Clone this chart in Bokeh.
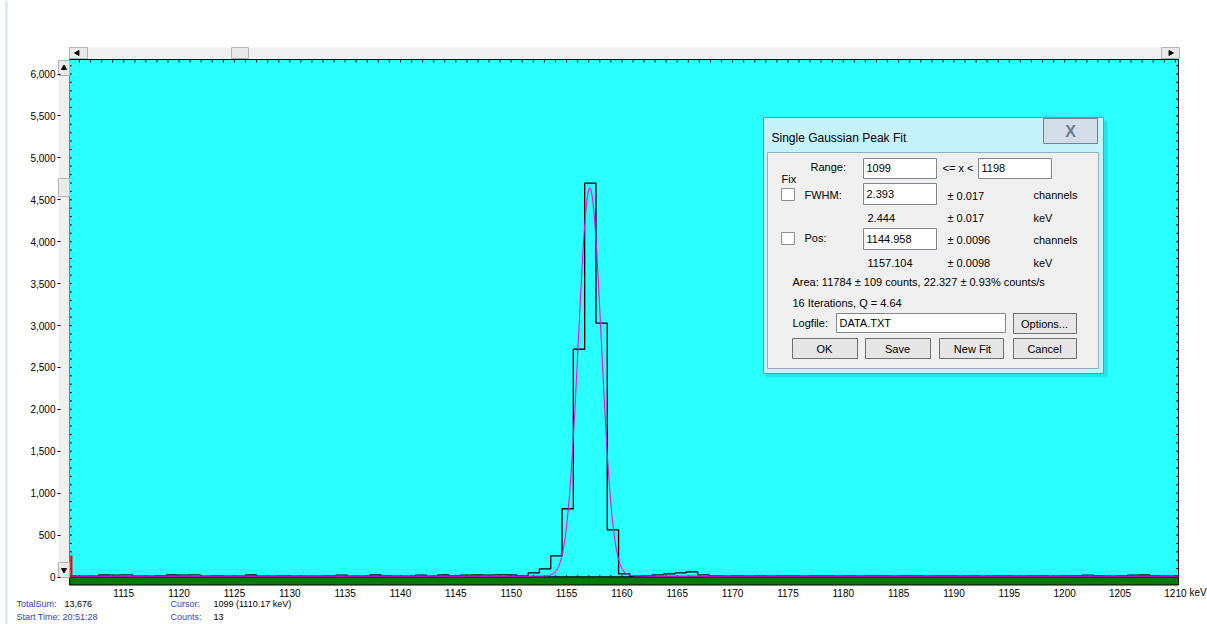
import numpy as np
from bokeh.plotting import figure
from bokeh.models import Range1d, FixedTicker, NumeralTickFormatter, Label
from bokeh.embed import file_html
from bokeh.resources import INLINE

# ---------------- data ----------------
CHANNELS = list(range(1099, 1199))
COUNTS = [
    13, 11, 10, 24, 23, 25, 11, 9, 12, 24,        # 1099-1108
    22, 25, 10, 12, 11, 9, 24, 11, 10, 12,        # 1109-1118
    11, 10, 9, 12, 23, 11, 10, 24, 12, 11,        # 1119-1128
    10, 23, 11, 24, 12, 23, 24, 22, 25, 24,       # 1129-1138
    14, 50, 98, 253, 814, 2717, 4698, 3028, 563, 38,  # 1139-1148
    11, 12, 26, 38, 50, 62, 26,                   # 1149-1155
    12, 11, 13, 10, 12, 11, 12, 13, 11, 12,       # 1156-1165
    12, 10, 13, 11, 12, 12, 11, 13, 12, 11,       # 1166-1175
    12, 13, 11, 12, 10, 12, 13, 11, 12, 12,       # 1176-1185
    11, 12, 13, 23, 12, 11, 12, 23, 24,           # 1186-1194
    12, 11, 12, 11,                               # 1195-1198
]
KEV_PER_CH = 1.0213
POS_CH = 1144.958
POS_KEV = 1157.104
FIT_AREA = 11784
FIT_FWHM_CH = 2.393
FIT_BG = 11.0
CURSOR_CH = 1099
X_TICKS = [1115, 1120, 1125, 1130, 1135, 1140, 1145, 1150, 1155, 1160, 1165, 1170,
           1175, 1180, 1185, 1190, 1195, 1200, 1205, 1210]
Y_TICKS = [0, 500, 1000, 1500, 2000, 2500, 3000, 3500, 4000, 4500, 5000, 5500, 6000]

# ---------------- geometry (page pixels -> data) ----------------
W, H = 1207, 624
X_REF_PX, X_REF_KEV, PX_PER_KEV = 69.0, 1110.1, 11.07
Y_ZERO_PX, PX_PER_COUNT = 576.5, 0.08383


def px2x(px):
    return X_REF_KEV + (px - X_REF_PX) / PX_PER_KEV


def py2y(py):
    return (Y_ZERO_PX - py) / PX_PER_COUNT


p = figure(width=W, height=H, output_backend="svg", toolbar_location=None,
           x_range=Range1d(px2x(0), px2x(W)), y_range=Range1d(py2y(H), py2y(0)),
           min_border=0)
p.background_fill_color = "white"
p.border_fill_color = "white"
p.outline_line_color = None
p.xgrid.visible = False
p.ygrid.visible = False

FONT = "Liberation Sans"
for ax in (p.xaxis[0], p.yaxis[0]):
    ax.axis_line_color = None
    ax.minor_tick_line_color = None
    ax.major_label_text_font = FONT
    ax.major_label_text_font_size = "10px"
    ax.major_label_text_color = "#000000"
    ax.major_tick_out = 0
p.xaxis[0].ticker = FixedTicker(ticks=X_TICKS)
p.xaxis[0].major_tick_in = 0
p.xaxis[0].major_label_standoff = 2
p.xaxis[0].fixed_location = py2y(586)
p.yaxis[0].ticker = FixedTicker(ticks=Y_TICKS)
p.yaxis[0].formatter = NumeralTickFormatter(format="0,0")
p.yaxis[0].major_tick_in = 3
p.yaxis[0].major_tick_line_color = "#000000"
p.yaxis[0].major_label_standoff = 2
p.yaxis[0].fixed_location = px2x(57)

# plot area
xl, xr = px2x(69), px2x(1178)
p.quad(left=xl, right=xr, bottom=0, top=py2y(59), fill_color="#29FFFF", line_color="#000000", line_width=1)
p.quad(left=xl, right=xr, bottom=py2y(584.5), top=0, fill_color="#007A00", line_color="#000000", line_width=1)

# edge ticks
kev_t = np.arange(1111, 1211)
p.segment(x0=kev_t, y0=py2y(59), x1=kev_t, y1=py2y(62), line_color="#000000", line_width=1)
p.segment(x0=kev_t, y0=0, x1=kev_t, y1=py2y(574.5), line_color="#000000", line_width=1)
cnt_t = np.arange(100, 6200, 100)
p.segment(x0=xl, y0=cnt_t, x1=px2x(71.5), y1=cnt_t, line_color="#000000", line_width=1)
p.segment(x0=xr, y0=cnt_t, x1=px2x(1175.5), y1=cnt_t, line_color="#000000", line_width=1)

# histogram and fit
energies = [POS_KEV + (c - POS_CH) * KEV_PER_CH for c in CHANNELS]
p.step(x=energies, y=COUNTS, mode="center", line_color="#000000", line_width=1.3)
ch_f = np.linspace(CHANNELS[0] - 0.5, CHANNELS[-1] + 0.5, 3000)
sig = FIT_FWHM_CH / 2.3548
fit = FIT_BG + FIT_AREA / (sig * np.sqrt(2 * np.pi)) * np.exp(-0.5 * ((ch_f - POS_CH) / sig) ** 2)
p.line(x=POS_KEV + (ch_f - POS_CH) * KEV_PER_CH, y=fit, line_color="#FF00FF", line_width=1.1)

# cursor
cur_kev = POS_KEV + (CURSOR_CH - POS_CH) * KEV_PER_CH + 0.1
p.segment(x0=cur_kev, y0=0, x1=cur_kev, y1=py2y(555), line_color="#FF0000", line_width=2.2)

# cover overflow right of the plot area
p.quad(left=px2x(1178.6), right=px2x(W), bottom=py2y(586), top=py2y(540), fill_color="white", line_color=None)

# scrollbars
SB_FILL, SB_LINE = "#F0F0F0", "#B4B4B4"
p.quad(left=px2x(69), right=px2x(1179), bottom=py2y(58), top=py2y(47), fill_color=SB_FILL, line_color=None)
for a, b in ((69, 87), (231, 248), (1161, 1179)):
    p.quad(left=px2x(a), right=px2x(b), bottom=py2y(58), top=py2y(47), fill_color="#E9E9E9", line_color=SB_LINE)
p.quad(left=px2x(58), right=px2x(69), bottom=py2y(577), top=py2y(60), fill_color=SB_FILL, line_color=None)
for a, b in ((60, 75), (178, 196), (562, 577)):
    p.quad(left=px2x(58), right=px2x(69), bottom=py2y(b), top=py2y(a), fill_color="#E9E9E9", line_color=SB_LINE)
p.scatter(x=[px2x(77)], y=[py2y(52.5)], marker="triangle", angle=np.pi / 2, size=5, color="#000000")
p.scatter(x=[px2x(1170)], y=[py2y(52.5)], marker="triangle", angle=-np.pi / 2, size=5, color="#000000")
p.scatter(x=[px2x(63.5)], y=[py2y(67.5)], marker="triangle", size=5, color="#000000")
p.scatter(x=[px2x(63.5)], y=[py2y(569.5)], marker="inverted_triangle", size=5, color="#000000")
# left window edge line
p.segment(x0=px2x(6), y0=py2y(0), x1=px2x(6), y1=py2y(H), line_color="#D6E2F0", line_width=2)


def box(x0, y0, x1, y1, fill, line, lw=1, alpha=1.0):
    p.quad(left=px2x(x0), right=px2x(x1), top=py2y(y0), bottom=py2y(y1),
           fill_color=fill, line_color=line, line_width=lw, fill_alpha=alpha)


def lab(x, y, text, size="11px", color="#000000", align="left", style="normal"):
    p.add_layout(Label(x=px2x(x), y=py2y(y), text=text, text_font=FONT, text_font_size=size,
                       text_color=color, text_align=align, text_baseline="middle",
                       text_font_style=style))


# dialog
box(766, 120, 1107, 377, "#10B8C8", None, alpha=0.35)
box(763, 117, 1103, 373, "#C6F2FA", "#5A9DB2")
box(767, 152, 1098, 368, "#F0F0F0", "#8FAFBF")
box(1043, 118, 1097, 143, "#D3DDE8", "#6E8194")
lab(771, 137, "Single Gaussian Peak Fit", size="12px")
lab(1070, 131, "X", size="16px", color="#6C7C8E", align="center", style="bold")

for x0, y0, x1, y1 in ((863, 158, 936, 178), (978, 158, 1051, 178), (863, 183, 936, 204),
                       (863, 228, 936, 249), (836, 313, 1005, 332)):
    box(x0, y0, x1, y1, "#FFFFFF", "#828790")
for y0 in (188, 232):
    box(781, y0, 794, y0 + 12, "#FFFFFF", "#8E8F8F")
box(1013, 313, 1076, 333, "#E6E6E6", "#707070")
for x0, x1 in ((792, 857), (865, 930), (939, 1003), (1013, 1076)):
    box(x0, 338, x1, 358, "#E6E6E6", "#707070")

lab(810, 166, "Range:")
lab(866, 167, "1099")
lab(942, 167, "<= x <")
lab(981, 167, "1198")
lab(781, 178, "Fix")
lab(804, 194, "FWHM:")
lab(866, 193, "2.393")
lab(947, 195, "± 0.017")
lab(1033, 194, "channels")
lab(867, 217, "2.444")
lab(947, 217, "± 0.017")
lab(1033, 217, "keV")
lab(804, 237, "Pos:")
lab(866, 238, "1144.958")
lab(947, 239, "± 0.0096")
lab(1033, 239, "channels")
lab(867, 262, "1157.104")
lab(947, 262, "± 0.0098")
lab(1033, 262, "keV")
lab(792, 281, "Area: 11784 ± 109 counts, 22.327 ± 0.93% counts/s")
lab(792, 302, "16 Iterations, Q = 4.64")
lab(792, 322, "Logfile:")
lab(839, 322, "DATA.TXT")
lab(1044, 323, "Options...", align="center")
lab(824, 348, "OK", align="center")
lab(897, 348, "Save", align="center")
lab(972, 348, "New Fit", align="center")
lab(1044, 348, "Cancel", align="center")

# axis unit and status bar
lab(1189, 592, "keV", size="10px")
BLUE = "#2F3FD0"
lab(16, 603, "TotalSum:", size="9px", color=BLUE)
lab(64, 603, "13,676", size="9px")
lab(16, 616, "Start Time: 20:51:28", size="9px", color=BLUE)
lab(170, 603, "Cursor:", size="9px", color=BLUE)
lab(213, 603, "1099 (1110.17 keV)", size="9px")
lab(170, 616, "Counts:", size="9px", color=BLUE)
lab(213, 616, "13", size="9px")

open("out.html", "w").write(file_html(p, INLINE))
